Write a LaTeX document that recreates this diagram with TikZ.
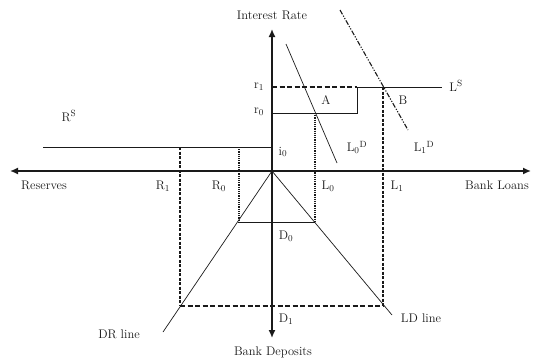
\documentclass[tikz,border=0pt]{standalone}
\usepackage{tikz}
\usetikzlibrary{arrows.meta,calc,positioning}
\definecolor{inkgray}{HTML}{1A1A1A}
\tikzset{
  axisline/.style={inkgray, -{Latex[length=8pt,width=7pt]}, line width=1.5pt},
  curve/.style={inkgray, line width=0.7pt},
  boxline/.style={inkgray, line width=0.9pt},
  guide/.style={inkgray, dash pattern=on 5pt off 2.5pt, line width=1.1pt},
  shortguide/.style={inkgray, dash pattern=on 3pt off 1.5pt, line width=1.1pt},
  dotguide/.style={inkgray, dash pattern=on 1.2pt off 1pt, line width=1.1pt},
  dashdotline/.style={inkgray, dash pattern=on 5pt off 1.5pt on 1.2pt off 1.5pt on 1.2pt off 1.5pt, line width=1.1pt},
  labelnode/.style={inkgray, inner sep=1pt, font=\fontsize{12.5}{14}\selectfont}
}

\begin{document}
\begin{tikzpicture}[x=1pt,y=-1pt]
  \useasboundingbox (0,0) rectangle (533,360);
  % points of the diagram
  \coordinate (O) at (272,171);
  \coordinate (ytop) at (272,29);
  \coordinate (ybot) at (272,338);
  \coordinate (xleft) at (10,171);
  \coordinate (xright) at (531,171);
  \coordinate (r1pt) at (272,87);
  \coordinate (r0pt) at (272,113);
  \coordinate (i0pt) at (272,147);
  \coordinate (boxtop) at (357,87);
  \coordinate (boxbot) at (357,113);
  \coordinate (Bpt) at (383,87);
  \coordinate (LSend) at (442,87);
  \coordinate (Apt) at (315,113);
  \coordinate (RSstart) at (43,147);
  \coordinate (R1top) at (180,147);
  \coordinate (R0top) at (239,147);
  \coordinate (D0left) at (239,222);
  \coordinate (D0right) at (315,222);
  \coordinate (D1left) at (180,306);
  \coordinate (D1right) at (383,306);
  \coordinate (L0Dtop) at (286,44);
  \coordinate (L0Dbot) at (337,163);
  \coordinate (L1Dtop) at (340,10);
  \coordinate (L1Dbot) at (408,130);
  \coordinate (DRend) at (163,332);
  \coordinate (LDend) at (392,315);

  % guide lines
  \draw[guide] (r1pt) -- (boxtop);
  \draw[curve] (boxtop) -- (LSend);
  \draw[boxline] (r0pt) -- (boxbot) -- (boxtop);
  \draw[curve] (RSstart) -- (i0pt);
  \draw[shortguide] (R1top) -- (D1left);
  \draw[shortguide] (Bpt) -- (D1right);
  \draw[guide] (D1left) -- (D1right);
  \draw[dotguide] (R0top) -- (D0left);
  \draw[dotguide] (Apt) -- (D0right);
  \draw[boxline] (D0left) -- (D0right);

  % demand curves and deposit lines
  \draw[curve] (L0Dtop) -- (L0Dbot);
  \draw[dashdotline] (L1Dtop) -- (L1Dbot);
  \draw[curve] (O) -- (DRend);
  \draw[curve] (O) -- (LDend);

  % axes
  \draw[axisline] (O) -- (ytop);
  \draw[axisline] (O) -- (ybot);
  \draw[axisline] (O) -- (xleft);
  \draw[axisline] (O) -- (xright);

  % labels
  \node[labelnode] (yname) at (272,15) {Interest Rate};
  \node[labelnode] (dname) at (273,352) {Bank Deposits};
  \node[labelnode] (xleftname) at (44,185) {Reserves};
  \node[labelnode] (xrightname) at (497,185) {Bank Loans};
  \node[labelnode] (r1) at (259,87) {r$_1$};
  \node[labelnode] (r0) at (259,112) {r$_0$};
  \node[labelnode] (i0) at (283,152) {i$_0$};
  \node[labelnode] (Alab) at (326,100) {A};
  \node[labelnode] (Blab) at (403,100) {B};
  \node[labelnode] (LS) at (456,86) {L$^{\mathrm{S}}$};
  \node[labelnode] (RS) at (69,116) {R$^{\mathrm{S}}$};
  \node[labelnode] (L0D) at (357,147) {L$_0{}^{\mathrm{D}}$};
  \node[labelnode] (L1D) at (424,147) {L$_1{}^{\mathrm{D}}$};
  \node[labelnode] (R1) at (163,186) {R$_1$};
  \node[labelnode] (R0) at (219,186) {R$_0$};
  \node[labelnode] (L0) at (328,186) {L$_0$};
  \node[labelnode] (L1) at (397,186) {L$_1$};
  \node[labelnode] (D0) at (286,236) {D$_0$};
  \node[labelnode] (D1) at (286,319) {D$_1$};
  \node[labelnode] (DR) at (119,334) {DR line};
  \node[labelnode] (LD) at (421,318) {LD line};
\end{tikzpicture}
\end{document}
